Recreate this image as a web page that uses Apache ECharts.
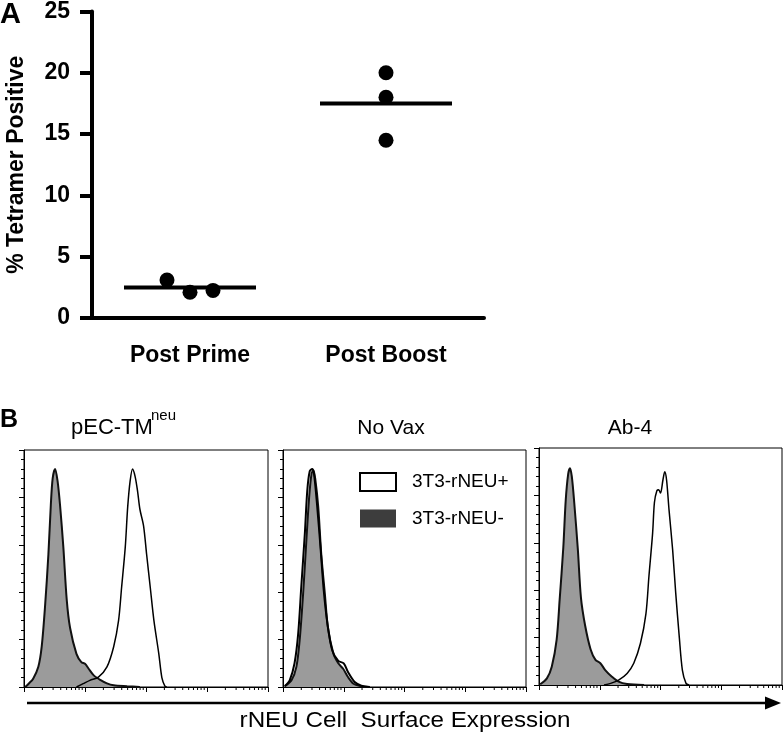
<!DOCTYPE html>
<html>
<head>
<meta charset="utf-8">
<script src="https://cdn.jsdelivr.net/npm/echarts@6/dist/echarts.min.js"></script>
<style>
  html, body { margin: 0; padding: 0; background: #fff; }
  #chart { width: 784px; height: 734px; }
</style>
</head>
<body>
<div id="chart"></div>
<script>
// ---- panel A: % tetramer positive ----
const groups = ['Post Prime', 'Post Boost'];
const postPrime = [3.1, 2.1, 2.25];
const postBoost = [20, 18, 14.5];

// ---- panel B: histograms, x in log decades (0-4), y in % of max ----
const panelTitles = ['pEC-TM', 'No Vax', 'Ab-4'];

const tmNeg = [[0.02,0],[0.08,1.5],[0.15,3.5],[0.235,8.5],[0.29,17],[0.345,34],[0.40,56],[0.44,77],[0.47,88],
  [0.51,92],[0.55,87],[0.59,77],[0.645,59],[0.70,37],[0.755,25],[0.86,14],[0.94,10.5],[1.0,9.8],[1.06,7.7],
  [1.14,5],[1.25,3],[1.36,1.5],[1.47,0.7],[1.69,0.3],[1.9,0]];
const tmPos = [[0.86,0],[0.97,1.4],[1.08,2.8],[1.22,4.2],[1.36,8.5],[1.47,17],[1.55,28],[1.60,42],[1.66,59],
  [1.70,76],[1.74,87],[1.78,92],[1.82,89],[1.86,83],[1.90,75],[1.96,68],[2.01,56],[2.07,42],[2.13,28],
  [2.21,14],[2.26,4],[2.31,0.4],[2.34,0]];

const noVaxNeg = [[0.03,0.3],[0.14,2.8],[0.22,8.5],[0.275,20],[0.33,39],[0.385,62],[0.43,80],[0.47,90],
  [0.50,91.5],[0.53,88],[0.58,76],[0.63,56],[0.69,39],[0.74,25],[0.83,14],[0.91,10],[0.99,7.7],[1.07,4.2],
  [1.16,1.4],[1.27,0.4],[1.4,0]];
const noVaxPos = [[0.03,0.4],[0.11,2.8],[0.19,10],[0.25,22.5],[0.30,42],[0.36,65],[0.40,83],[0.44,91],
  [0.48,92],[0.51,90],[0.56,77],[0.62,58],[0.67,41],[0.73,27],[0.81,15.5],[0.91,11],[1.0,10],[1.07,6.3],
  [1.18,2.1],[1.29,0.6],[1.43,0]];

const ab4Neg = [[0.02,0.3],[0.13,2.8],[0.21,7.7],[0.29,19],[0.34,36],[0.40,58],[0.44,78],[0.48,89],
  [0.51,91.5],[0.54,88],[0.58,77],[0.64,57],[0.69,37],[0.76,25],[0.85,15],[0.93,10.6],[1.01,9.2],[1.09,6.3],
  [1.20,3.5],[1.31,1.4],[1.45,0.4],[1.73,0]];
const ab4Pos = [[1.07,0],[1.18,0.7],[1.31,2.1],[1.45,4.9],[1.56,9.2],[1.67,17.6],[1.76,30],[1.81,46],
  [1.87,64],[1.90,77],[1.94,82],[1.97,82.4],[2.00,81],[2.04,86.5],[2.07,90],[2.10,86.5],[2.14,74],
  [2.20,57],[2.25,39],[2.31,20],[2.36,6.3],[2.42,0.7],[2.47,0]];

const histograms = [[tmNeg, tmPos], [noVaxNeg, noVaxPos], [ab4Neg, ab4Pos]];

// log minor ticks 2..9 in each decade
const decadeStarts = [1, 10, 100, 1000];
const minorMultipliers = [2, 3, 4, 5, 6, 7, 8, 9];

const FONT = 'Liberation Sans, Arial, sans-serif';

var dom = document.getElementById('chart');
var myChart = echarts.init(dom, null, { renderer: 'canvas' });

function mean(arr) {
  return arr.reduce((a, b) => a + b, 0) / arr.length;
}

var minorTicks = [];
decadeStarts.forEach(d => {
  minorMultipliers.forEach(m => minorTicks.push([Math.log10(d * m), 0]));
});

// grids: A, then the three histogram boxes
var grids = [
  { left: 92, top: 10, width: 392, height: 308 },
  { left: 24, top: 450, width: 244, height: 237, show: true, borderColor: '#000', borderWidth: 1 },
  { left: 283, top: 450, width: 243, height: 237, show: true, borderColor: '#000', borderWidth: 1 },
  { left: 539, top: 448, width: 243, height: 237, show: true, borderColor: '#000', borderWidth: 1 }
];

var xAxes = [{
  gridIndex: 0,
  type: 'category',
  data: groups,
  boundaryGap: true,
  axisLine: { lineStyle: { color: '#000', width: 4 } },
  axisTick: { alignWithLabel: true, length: 13, lineStyle: { color: '#000', width: 4 } },
  axisLabel: { color: '#000', fontSize: 23, fontWeight: 'bold', fontFamily: FONT, margin: 26 }
}];
var yAxes = [{
  gridIndex: 0,
  type: 'value',
  min: 0, max: 25, interval: 5,
  name: '% Tetramer Positive',
  nameLocation: 'middle',
  nameGap: 64,
  nameTextStyle: { color: '#000', fontSize: 23, fontWeight: 'bold', fontFamily: FONT },
  axisLine: { show: true, lineStyle: { color: '#000', width: 4 } },
  axisTick: { show: true, length: 12, lineStyle: { color: '#000', width: 4 } },
  splitLine: { show: false },
  axisLabel: { color: '#000', fontSize: 23, fontWeight: 'bold', fontFamily: FONT, margin: 22 }
}];

for (let i = 1; i <= 3; i++) {
  xAxes.push({
    gridIndex: i, type: 'value', min: 0, max: 4, interval: 1,
    axisLine: { show: true, lineStyle: { color: '#000', width: 1 } },
    axisTick: { show: true, length: 5, lineStyle: { color: '#000' } },
    axisLabel: { show: false },
    splitLine: { show: false }
  });
  yAxes.push({
    gridIndex: i, type: 'value', min: 0, max: 100, interval: 20,
    axisLine: { show: true, lineStyle: { color: '#000', width: 1 } },
    axisTick: { show: true, length: 5, lineStyle: { color: '#000' } },
    minorTick: { show: true, splitNumber: 5, length: 3, lineStyle: { color: '#000' } },
    axisLabel: { show: false },
    splitLine: { show: false },
    minorSplitLine: { show: false }
  });
}

var series = [
  {
    // mean bars
    type: 'scatter',
    xAxisIndex: 0, yAxisIndex: 0,
    symbol: 'rect',
    symbolSize: [132, 4],
    itemStyle: { color: '#000', opacity: 1 },
    data: [[0, mean(postPrime)], [1, mean(postBoost)]],
    z: 3
  },
  {
    type: 'scatter',
    xAxisIndex: 0, yAxisIndex: 0,
    symbol: 'circle',
    symbolSize: 15,
    itemStyle: { color: '#000', opacity: 1 },
    data: postPrime.map((v, k) => ({ value: [0, v], symbolOffset: [(k - 1) * 23, 0] }))
      .concat(postBoost.map(v => ({ value: [1, v] }))),
    z: 4
  }
];

histograms.forEach((pair, k) => {
  var idx = k + 1;
  series.push({
    name: '3T3-rNEU-',
    type: 'line',
    xAxisIndex: idx, yAxisIndex: idx,
    data: pair[0],
    smooth: 0.3,
    showSymbol: false,
    lineStyle: { color: '#111', width: 2 },
    itemStyle: { color: '#3d3d3d' },
    areaStyle: { color: '#9b9b9b', opacity: 1 },
    z: 2
  });
  series.push({
    name: '3T3-rNEU+',
    type: 'line',
    xAxisIndex: idx, yAxisIndex: idx,
    data: pair[1],
    smooth: 0.3,
    showSymbol: false,
    lineStyle: { color: '#000', width: k === 1 ? 2 : 1.5 },
    itemStyle: { color: '#fff' },
    z: 3
  });
  series.push({
    type: 'custom',
    xAxisIndex: idx, yAxisIndex: idx,
    silent: true,
    clip: false,
    data: minorTicks,
    renderItem: (params, api) => {
      var p = api.coord([api.value(0), 0]);
      return {
        type: 'line',
        shape: { x1: p[0], y1: p[1], x2: p[0], y2: p[1] + 3 },
        style: { stroke: '#000', lineWidth: 1 }
      };
    }
  });
});

var titleCenters = [null, 391, 630];

var graphics = [
  { type: 'text', x: 0, y: 15, style: { text: 'A', font: 'bold 29px ' + FONT, fill: '#000', align: 'left', verticalAlign: 'middle' } },
  { type: 'text', x: 0, y: 420, style: { text: 'B', font: 'bold 25px ' + FONT, fill: '#000', align: 'left', verticalAlign: 'middle' } },
  { type: 'text', x: 71, y: 428, style: { text: panelTitles[0], font: '22px ' + FONT, fill: '#000', align: 'left', verticalAlign: 'middle' } },
  { type: 'text', x: 151, y: 416, style: { text: 'neu', font: '15px ' + FONT, fill: '#000', align: 'left', verticalAlign: 'middle' } },
  { type: 'text', x: titleCenters[1], y: 428, style: { text: panelTitles[1], font: '21px ' + FONT, fill: '#000', align: 'center', verticalAlign: 'middle' } },
  { type: 'text', x: titleCenters[2], y: 428, style: { text: panelTitles[2], font: '21px ' + FONT, fill: '#000', align: 'center', verticalAlign: 'middle' } },
  // expression arrow
  { type: 'line', shape: { x1: 27, y1: 703, x2: 768, y2: 703 }, style: { stroke: '#000', lineWidth: 2.5 } },
  { type: 'polygon', shape: { points: [[765, 696.5], [781, 703], [765, 709.5]] }, style: { fill: '#000' } },
  { type: 'text', x: 405, y: 721, scaleX: 1.1, style: { text: 'rNEU Cell  Surface Expression', font: '22px ' + FONT, fill: '#000', align: 'center', verticalAlign: 'middle' } }
];

var option = {
  backgroundColor: '#fff',
  animation: false,
  grid: grids,
  xAxis: xAxes,
  yAxis: yAxes,
  legend: {
    left: 359, top: 472,
    orient: 'vertical',
    padding: 0,
    itemWidth: 36, itemHeight: 18, itemGap: 17,
    selectedMode: false,
    textStyle: { color: '#000', fontSize: 19, fontFamily: FONT, padding: [0, 0, 0, 11] },
    data: [
      { name: '3T3-rNEU+', icon: 'rect', itemStyle: { color: '#fff', borderColor: '#000', borderWidth: 2 } },
      { name: '3T3-rNEU-', icon: 'rect', itemStyle: { color: '#3d3d3d', borderWidth: 0 } }
    ]
  },
  series: series,
  graphic: graphics
};

myChart.setOption(option);
window.addEventListener('resize', myChart.resize);
</script>
</body>
</html>
